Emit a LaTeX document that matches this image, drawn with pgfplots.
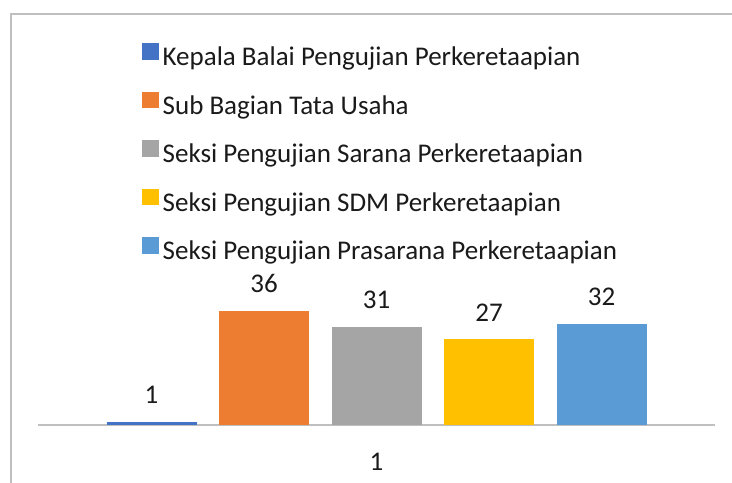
\documentclass[border=0pt]{standalone}
\usepackage{pgfplots}
\pgfplotsset{compat=1.18}
\usepackage{fontspec}
\setmainfont{Carlito}
\newcommand\cf{\fontsize{27bp}{32bp}\selectfont}
\definecolor{c1}{HTML}{4472C4}
\definecolor{c2}{HTML}{ED7D31}
\definecolor{c3}{HTML}{A5A5A5}
\definecolor{c4}{HTML}{FFC000}
\definecolor{c5}{HTML}{5B9BD5}
\definecolor{framec}{HTML}{BFBFBF}
\definecolor{txt}{HTML}{1A1A1A}
\begin{document}
\begin{tikzpicture}
\useasboundingbox (0,0) rectangle (732bp,483bp);
\fill[white] (0,0) rectangle (732bp,483bp);
\draw[framec, line width=2bp] (11bp,0) -- (11bp,469bp) -- (740bp,469bp);
\begin{axis}[
  at={(38bp,58bp)}, anchor=origin,
  scale only axis,
  width=677bp, height=126.7bp,
  xmin=0, xmax=2, ymin=0, ymax=40,
  ybar=22.5bp, bar width=90bp,
  axis y line=none,
  axis x line*=bottom,
  x axis line style={draw=framec, line width=1.6bp, -},
  xtick={1}, xticklabels={1},
  major tick length=0pt,
  /pgf/number format/assume math mode=true,
  xticklabel style={font=\cf, text=txt, anchor=north, inner sep=0pt, yshift=-28bp},
  nodes near coords,
  every node near coord/.append style={font=\cf, text=txt, anchor=south, inner sep=0pt, yshift=18bp},
  legend image code/.code={\fill[#1] (0bp,0bp) rectangle (16.5bp,16.5bp);},
  legend cell align=left,
  legend style={draw=none, fill=none, font=\cf, text=txt, inner sep=0pt,
    at={(0.1536,3.015)}, anchor=north west,
    row sep=20bp,
    nodes={inner sep=0pt, text height=18bp, text depth=6bp},
    /tikz/every odd column/.style={column sep=4bp}},
]
\addplot[fill=c1, draw=none] coordinates {(1,1)};
\addplot[fill=c2, draw=none] coordinates {(1,36)};
\addplot[fill=c3, draw=none] coordinates {(1,31)};
\addplot[fill=c4, draw=none] coordinates {(1,27)};
\addplot[fill=c5, draw=none] coordinates {(1,32)};
\legend{Kepala Balai Pengujian Perkeretaapian,Sub Bagian Tata Usaha,Seksi Pengujian Sarana Perkeretaapian,Seksi Pengujian SDM Perkeretaapian,Seksi Pengujian Prasarana Perkeretaapian}
\end{axis}
\end{tikzpicture}
\end{document}
